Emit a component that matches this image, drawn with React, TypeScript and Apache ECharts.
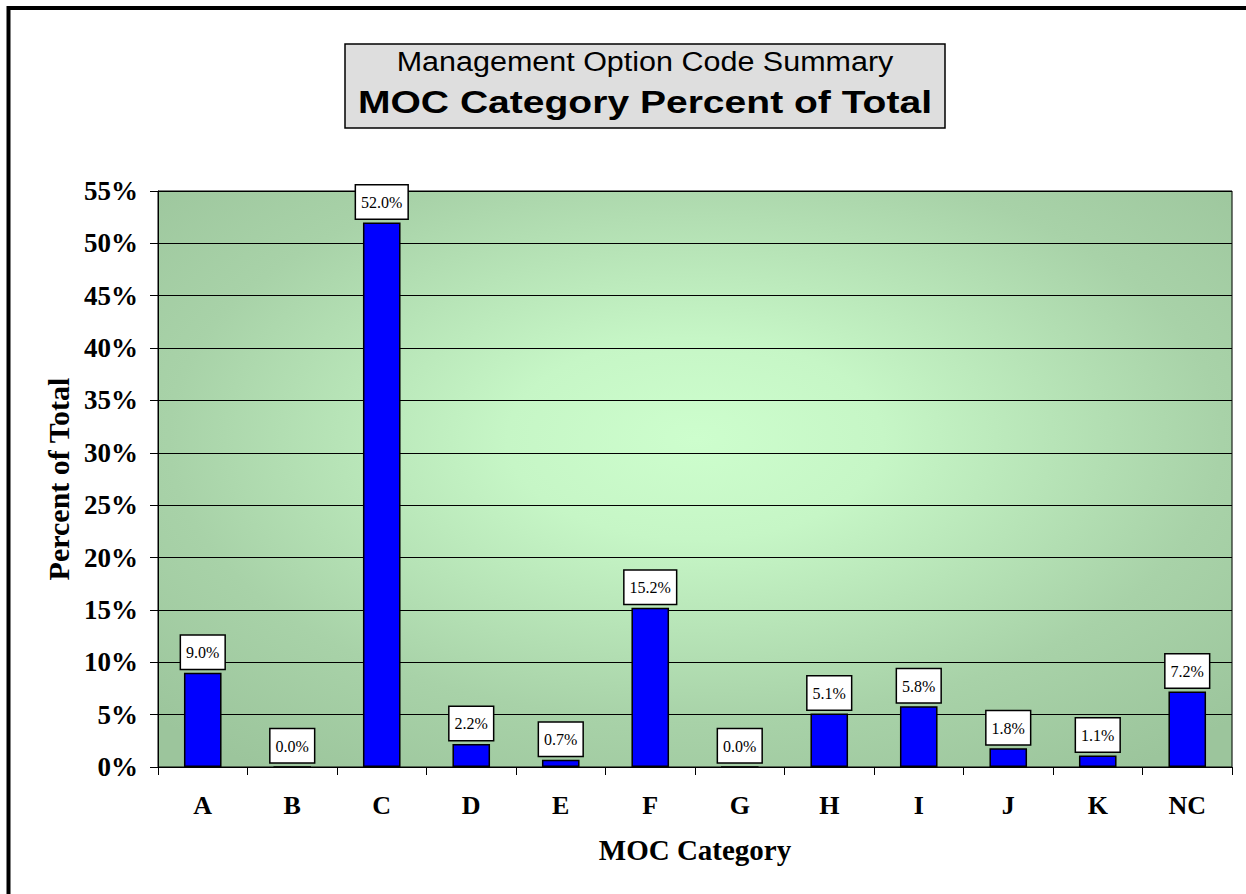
import React, { useEffect, useRef } from 'react';
import * as echarts from 'echarts';

const categories = ['A', 'B', 'C', 'D', 'E', 'F', 'G', 'H', 'I', 'J', 'K', 'NC'];
const percents = [9.0, 0.0, 52.0, 2.2, 0.7, 15.2, 0.0, 5.1, 5.8, 1.8, 1.1, 7.2];
const titleLine1 = 'Management Option Code Summary';
const titleLine2 = 'MOC Category Percent of Total';
const xAxisName = 'MOC Category';
const yAxisName = 'Percent of Total';
const yMin = 0;
const yMax = 55;
const yStep = 5;

export default function App() {
  const ref = useRef<HTMLDivElement>(null);
  useEffect(() => {
    const chart = echarts.init(ref.current!, null, { renderer: 'svg' });
    const W = 1246, H = 894;
    const gridL = 158, gridT = 191, gridR = 14, gridB = 127;
    const pw = W - gridL - gridR, ph = H - gridT - gridB;
    const serif = '"Liberation Serif", "Times New Roman", serif';
    const sans = '"Liberation Sans", Arial, sans-serif';
    chart.setOption({
      animation: false,
      backgroundColor: '#ffffff',
      grid: {
        left: gridL, top: gridT, right: gridR, bottom: gridB,
        show: true, borderColor: '#000', borderWidth: 1, backgroundColor: 'transparent',
      },
      graphic: [
        {
          type: 'rect', x: gridL, y: gridT, scaleX: pw / ph, z: -10, silent: true,
          shape: { x: 0, y: 0, width: ph, height: ph },
          style: {
            fill: new echarts.graphic.RadialGradient(0.5, 0.43, 0.7, [
              { offset: 0, color: '#cdfecd' },
              { offset: 0.25, color: '#c6f6c6' },
              { offset: 0.7, color: '#a8d2a8' },
              { offset: 1, color: '#9cc59c' },
            ]),
          },
        },
        {
          type: 'rect', silent: true,
          shape: { x: 8.5, y: 8, width: 1400, height: 1200 },
          style: { fill: 'transparent', stroke: '#000', lineWidth: 4 },
        },
        {
          type: 'rect', silent: true,
          shape: { x: 345, y: 44, width: 600, height: 84 },
          style: { fill: '#dedede', stroke: '#000', lineWidth: 1.5 },
        },
        {
          type: 'text', x: 645, y: 62, scaleX: 1.13, silent: true,
          style: {
            text: titleLine1, fontSize: 27, fontFamily: sans, fontWeight: 'normal',
            fill: '#000', align: 'center', verticalAlign: 'middle',
          },
        },
        {
          type: 'text', x: 645, y: 102, scaleX: 1.22, silent: true,
          style: {
            text: titleLine2, fontSize: 32, fontFamily: sans, fontWeight: 'bold',
            fill: '#000', align: 'center', verticalAlign: 'middle',
          },
        },
      ],
      xAxis: {
        type: 'category',
        data: categories,
        axisLine: { show: true, lineStyle: { color: '#000', width: 1 } },
        axisTick: { show: true, length: 8, lineStyle: { color: '#000' } },
        axisLabel: { color: '#000', fontFamily: serif, fontWeight: 'bold', fontSize: 26, margin: 25 },
        name: xAxisName,
        nameLocation: 'middle',
        nameGap: 68,
        nameTextStyle: { color: '#000', fontFamily: serif, fontWeight: 'bold', fontSize: 29 },
      },
      yAxis: {
        type: 'value',
        min: yMin, max: yMax, interval: yStep,
        axisLine: { show: true, lineStyle: { color: '#000', width: 1 } },
        axisTick: { show: true, length: 8, lineStyle: { color: '#000' } },
        axisLabel: { color: '#000', fontFamily: serif, fontWeight: 'bold', fontSize: 27, margin: 20, formatter: '{value}%' },
        splitLine: { show: true, lineStyle: { color: '#000', width: 1 } },
        name: yAxisName,
        nameLocation: 'middle',
        nameGap: 83,
        nameRotate: 90,
        nameTextStyle: { color: '#000', fontFamily: serif, fontWeight: 'bold', fontSize: 30 },
      },
      series: [
        {
          type: 'bar',
          data: percents,
          barWidth: '42%',
          itemStyle: { color: '#0000ff', borderColor: '#000', borderWidth: 1.5 },
          label: {
            show: true, position: 'top', distance: 4,
            formatter: (p: any) => Number(p.value).toFixed(1) + '%',
            fontFamily: serif, fontSize: 16, color: '#000',
            backgroundColor: '#fff', borderColor: '#000', borderWidth: 1.5,
            padding: [9, 5, 8, 5],
          },
        },
      ],
    });
    return () => chart.dispose();
  }, []);
  return <div ref={ref} style={{ position: 'absolute', left: 0, top: 0, width: 1246, height: 894 }} />;
}
